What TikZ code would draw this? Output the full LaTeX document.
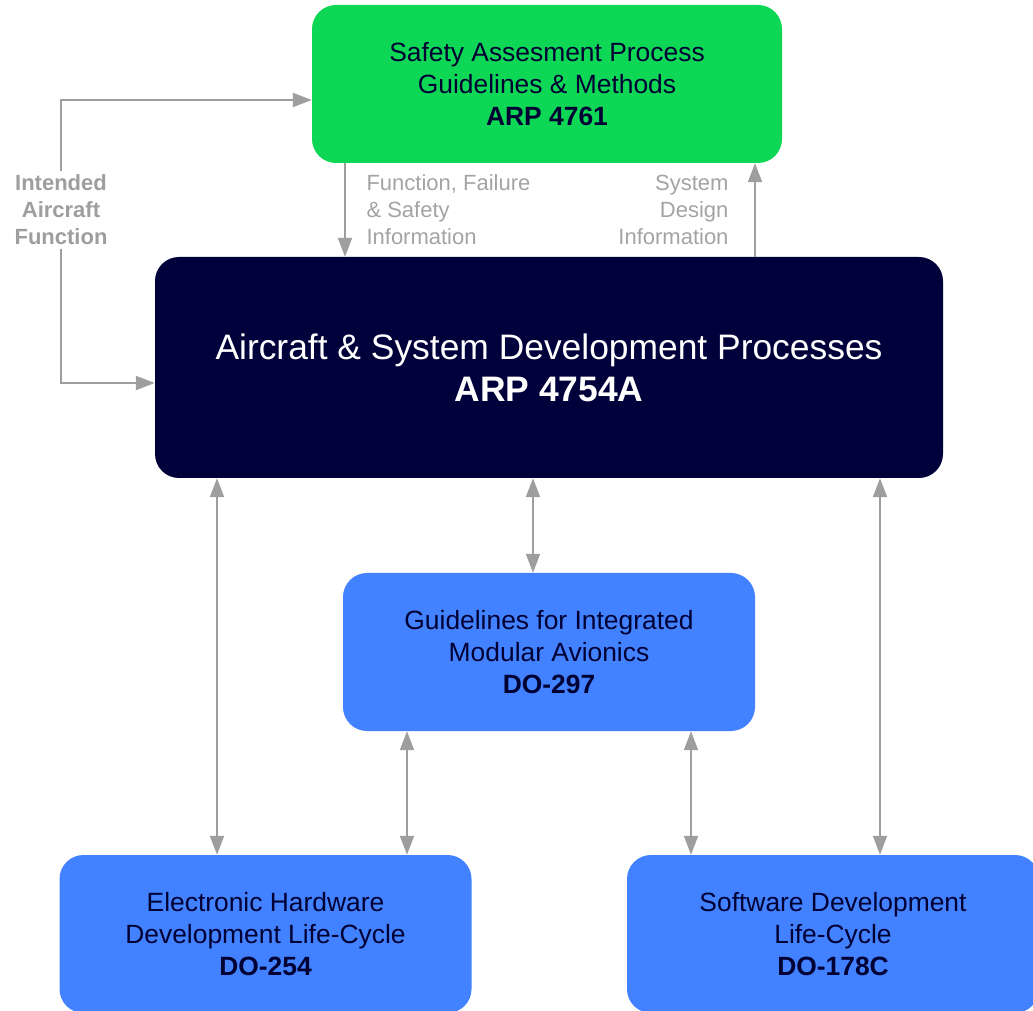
\documentclass[tikz,border=0pt]{standalone}
\usepackage{fontspec}
\setmainfont{Liberation Sans}
\usepackage{xcolor}
\definecolor{grn}{HTML}{0ED755}
\definecolor{navy}{HTML}{00003A}
\definecolor{blu}{HTML}{4281FF}
\definecolor{ink}{HTML}{000033}
\definecolor{lgr}{HTML}{9E9E9E}
\definecolor{mute}{HTML}{A3A3A3}
\usepackage{tikz}
\usetikzlibrary{arrows.meta}
\tikzset{
  >={Triangle[length=19pt,width=14pt]},
  box/.style={rounded corners=24pt,inner sep=0pt,minimum height=158pt,align=center,text=ink,font=\fontsize{26.4}{32}\selectfont},
  gbox/.style={box,fill=grn,minimum width=470pt},
  dbox/.style={box,fill=navy,text=white,minimum width=788pt,minimum height=221pt,font=\fontsize{35.4}{42}\selectfont},
  bbox/.style={box,fill=blu,minimum width=412pt},
  lab/.style={font=\fontsize{22}{27}\selectfont,text=mute},
  blab/.style={lab,font=\fontsize{22}{27}\selectfont\bfseries,text=lgr,align=center},
  arr/.style={->,draw=lgr,line width=2pt},
  darr/.style={<->,draw=lgr,line width=2pt},
}

\begin{document}
\begin{tikzpicture}[x=1pt,y=1pt]
\useasboundingbox (0,0) rectangle (1033,1010);
\clip (0,0) rectangle (1033,1010);
\node[gbox] (sap) at (547,926) {Safety Assesment Process\\Guidelines \& Methods\\\textbf{ARP 4761}};
\node[dbox] (asd) at (549,642.5) {Aircraft \& System Development Processes\\\textbf{ARP 4754A}};
\node[bbox] (ima) at (549,358) {Guidelines for Integrated\\Modular Avionics\\\textbf{DO-297}};
\node[bbox] (hw) at (265.5,76) {Electronic Hardware\\Development Life-Cycle\\\textbf{DO-254}};
\node[bbox] (sw) at (833,76) {Software Development\\Life-Cycle\\\textbf{DO-178C}};
\node[blab] (iaf) at (61,800) {Intended\\Aircraft\\Function};
\node[lab,align=left,anchor=west] (ffs) at (363,800) {Function, Failure\\\& Safety\\Information};
\node[lab,align=right,anchor=east] (sdi) at (732,800) {System\\Design\\Information};
\draw[arr] (iaf.north) |- ([yshift=-16pt]sap.west);
\draw[arr] (iaf.south) |- ([yshift=-15.5pt]asd.west);
\draw[arr] ([xshift=-202pt]sap.south) -- ([xshift=-204pt]asd.north);
\draw[arr] ([xshift=206pt]asd.north) -- ([xshift=208pt]sap.south);
\draw[darr] ([xshift=-16pt]asd.south) -- ([xshift=-16pt]ima.north);
\draw[darr] ([xshift=-332pt]asd.south) -- ([xshift=-48.5pt]hw.north);
\draw[darr] ([xshift=331pt]asd.south) -- ([xshift=47pt]sw.north);
\draw[darr] ([xshift=-142pt]ima.south) -- ([xshift=141.5pt]hw.north);
\draw[darr] ([xshift=142pt]ima.south) -- ([xshift=-142pt]sw.north);
\end{tikzpicture}
\end{document}
